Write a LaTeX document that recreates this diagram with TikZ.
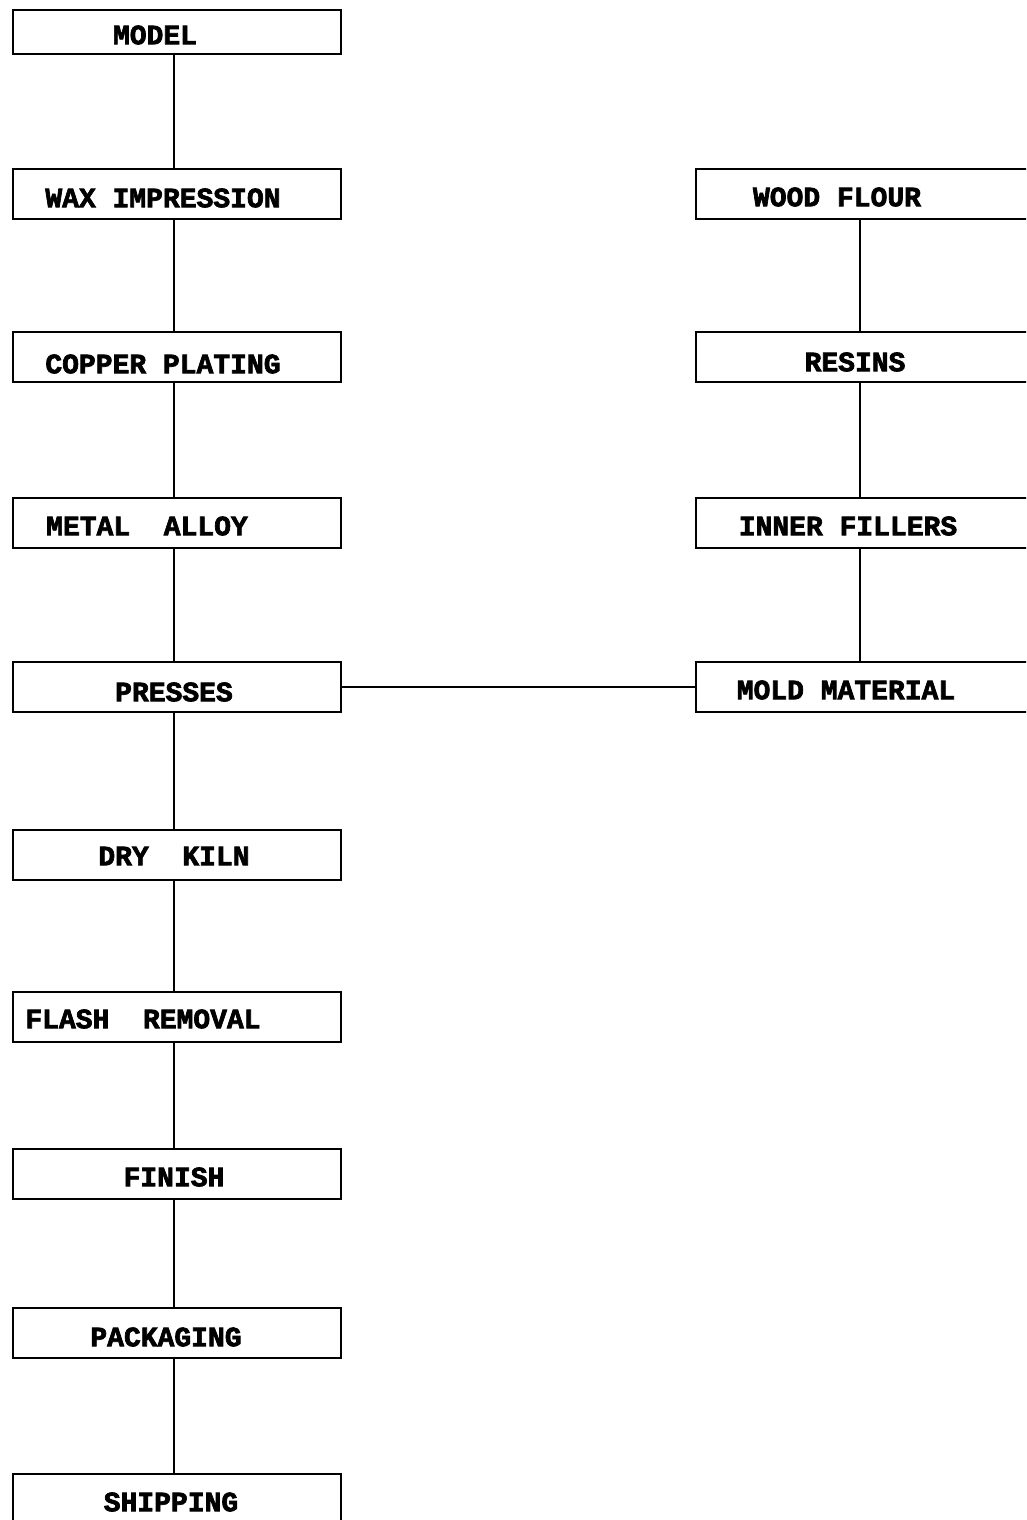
\documentclass[tikz,border=0pt]{standalone}
\usepackage{fontspec}
\newfontfamily\tw{Liberation Mono}[BoldFeatures={FakeBold=2.5}]
\begin{document}
\begin{tikzpicture}[x=1pt,y=-1pt,
  box/.style={draw, line width=2.2pt, rectangle, inner sep=0pt, anchor=north west,
              minimum height=50pt},
  lbox/.style={box, minimum width=328pt},
  rbox/.style={box, minimum width=350pt},
  txt/.style={font=\tw\bfseries\fontsize{28pt}{30pt}\selectfont, inner sep=0pt, anchor=center},
  conn/.style={line width=2.4pt}]
\useasboundingbox (0,0) rectangle (1026,1520);
\clip (0,0) rectangle (1026,1520);
\fill[white] (0,0) rectangle (1026,1520);
% column axes
\coordinate (lc) at (174,0);
\coordinate (rc) at (860,0);
% left column boxes
\node[lbox, minimum height=44pt] (model) at (12,9) {};
\node[lbox] (wax) at (12,168) {};
\node[lbox] (copper) at (12,331) {};
\node[lbox] (metal) at (12,497) {};
\node[lbox] (presses) at (12,661) {};
\node[lbox] (dry) at (12,829) {};
\node[lbox] (flash) at (12,991) {};
\node[lbox] (finish) at (12,1148) {};
\node[lbox] (pack) at (12,1307) {};
\node[lbox] (ship) at (12,1473) {};
% right column boxes
\node[rbox] (wood) at (695,168) {};
\node[rbox] (resins) at (695,331) {};
\node[rbox] (inner) at (695,497) {};
\node[rbox] (mold) at (695,661) {};
% texts
\node[txt] (tmodel) at (155,35) {MODEL};
\node[txt] (twax) at (163,198) {WAX IMPRESSION};
\node[txt] (tcopper) at (163,364) {COPPER PLATING};
\node[txt] (tmetal) at (147,526) {METAL~~ALLOY};
\node[txt] (tpresses) at (174,692) {PRESSES};
\node[txt] (tdry) at (174,856) {DRY~~KILN};
\node[txt] (tflash) at (143,1019) {FLASH~~REMOVAL};
\node[txt] (tfinish) at (174,1177) {FINISH};
\node[txt] (tpack) at (166,1337) {PACKAGING};
\node[txt] (tship) at (171,1502) {SHIPPING};
\node[txt] (twood) at (837,197) {WOOD FLOUR};
\node[txt] (tresins) at (855,362) {RESINS};
\node[txt] (tinner) at (848,526) {INNER FILLERS};
\node[txt] (tmold) at (846,690) {MOLD MATERIAL};
% connectors
\draw[conn] (model.south -| lc) -- (wax.north -| lc);
\draw[conn] (wax.south -| lc) -- (copper.north -| lc);
\draw[conn] (copper.south -| lc) -- (metal.north -| lc);
\draw[conn] (metal.south -| lc) -- (presses.north -| lc);
\draw[conn] (presses.south -| lc) -- (dry.north -| lc);
\draw[conn] (dry.south -| lc) -- (flash.north -| lc);
\draw[conn] (flash.south -| lc) -- (finish.north -| lc);
\draw[conn] (finish.south -| lc) -- (pack.north -| lc);
\draw[conn] (pack.south -| lc) -- (ship.north -| lc);
\draw[conn] (wood.south -| rc) -- (resins.north -| rc);
\draw[conn] (resins.south -| rc) -- (inner.north -| rc);
\draw[conn] (inner.south -| rc) -- (mold.north -| rc);
\draw[conn] (presses.east) -- (mold.west);
\end{tikzpicture}
\end{document}
